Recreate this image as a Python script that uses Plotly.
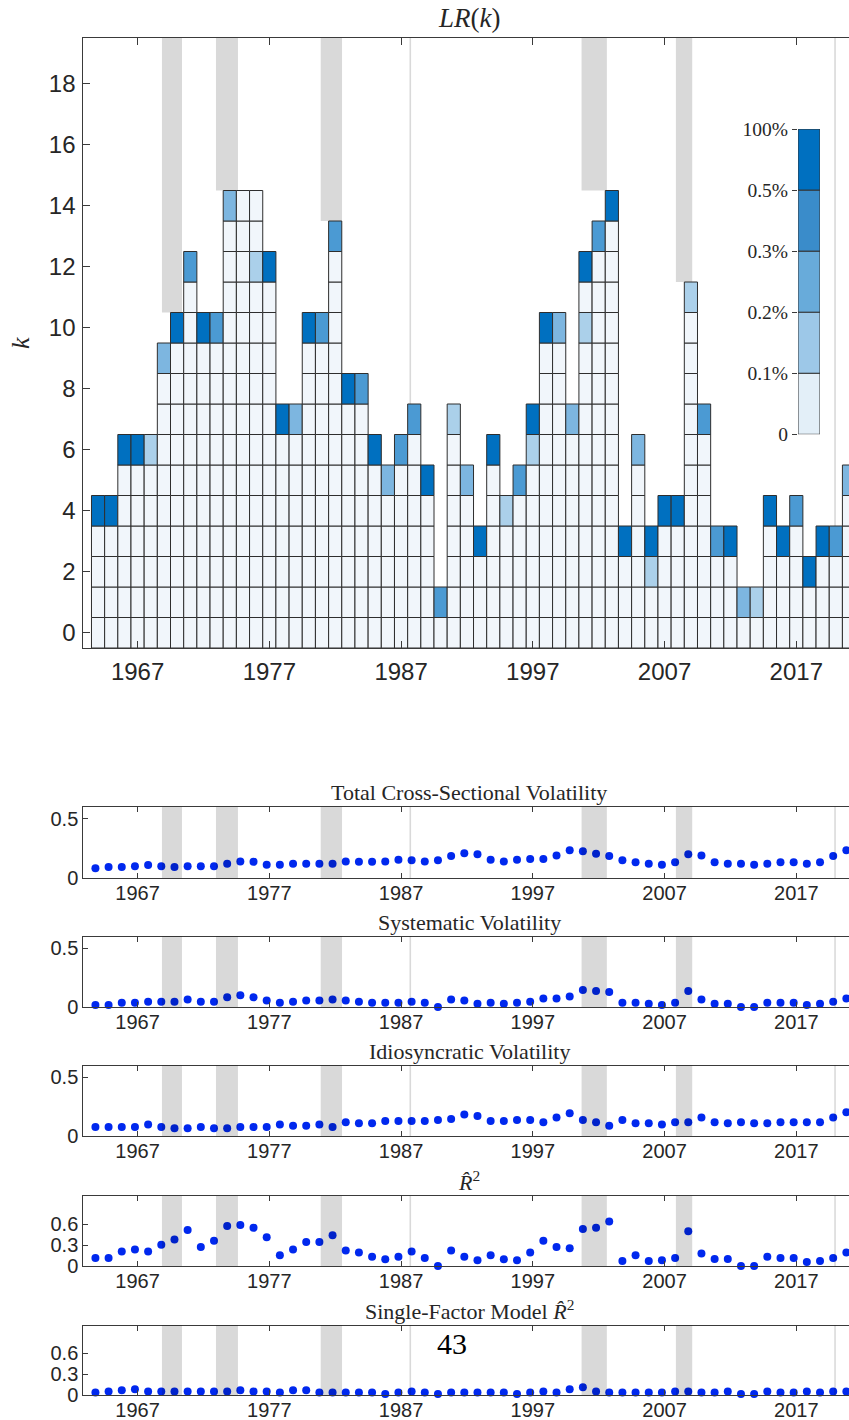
import plotly.graph_objects as go

W, H = 849, 1420

# ---------------- data ----------------
years = list(range(1964, 2022))
# highest k tested per year (cells k = 0..kmax)
kmax = [4, 4, 6, 6, 6, 9, 10, 12, 10, 10,
        14, 14, 14, 12, 7, 7, 10, 10, 13, 8,
        8, 6, 5, 6, 7, 5, 1, 7, 5, 3,
        6, 4, 5, 7, 10, 10, 7, 12, 13, 14,
        3, 6, 3, 4, 4, 11, 7, 3, 3, 1,
        1, 4, 3, 4, 2, 3, 3, 5]
# cells with a p-value level above the lowest bin
cell_year = [1964, 1965, 1966, 1967, 1968, 1969, 1970, 1971, 1972, 1973, 1974,
             1976, 1977, 1978, 1979, 1980, 1981, 1982, 1983, 1984, 1985, 1986,
             1987, 1988, 1989, 1990, 1991, 1992, 1993, 1994, 1995, 1996,
             1997, 1997, 1998, 1999, 2000, 2001, 2001, 2002, 2003, 2004, 2005,
             2006, 2006, 2007, 2008, 2009, 2010, 2011, 2012, 2013, 2014, 2015,
             2016, 2017, 2018, 2019, 2020, 2021]
cell_k = [4, 4, 6, 6, 6, 9, 10, 12, 10, 10, 14,
          12, 12, 7, 7, 10, 10, 13, 8, 8, 6, 5, 6, 7, 5, 1, 7, 5, 3, 6, 4, 5,
          7, 6, 10, 10, 7, 12, 10, 13, 14, 3, 6,
          3, 2, 4, 4, 11, 7, 3, 3, 1, 1, 4, 3, 4, 2, 3, 3, 5]
cell_level = [4, 4, 4, 4, 1, 2, 4, 3, 4, 3, 2,
              1, 4, 4, 2, 4, 3, 3, 4, 3, 4, 2, 3, 3, 4, 3, 1, 2, 4, 4, 1, 3,
              4, 1, 4, 2, 2, 4, 1, 3, 4, 4, 2,
              4, 1, 4, 4, 1, 3, 3, 4, 2, 1, 4, 4, 3, 4, 4, 3, 2]

level_labels = ["0", "0.1%", "0.2%", "0.3%", "0.5%", "100%"]

# recession bands (start, end) and how far down they reach in the LR(k) panel
band_start = [1968.85, 1972.95, 1980.90, 1987.64, 2000.70, 2007.86, 2019.88]
band_end = [1970.37, 1974.62, 1982.52, 1987.76, 2002.62, 2009.10, 2020.00]
band_floor = [10.5, 14.5, 13.5, 7.5, 14.5, 11.5, 3.5]

total_vol = [0.083, 0.092, 0.092, 0.10, 0.11, 0.10, 0.092, 0.10, 0.10, 0.10,
             0.12, 0.14, 0.137, 0.113, 0.113, 0.12, 0.12, 0.12, 0.12, 0.14,
             0.137, 0.137, 0.14, 0.155, 0.15, 0.14, 0.15, 0.185, 0.21, 0.20,
             0.155, 0.14, 0.155, 0.16, 0.16, 0.19, 0.235, 0.225, 0.205, 0.185,
             0.15, 0.134, 0.12, 0.113, 0.134, 0.20, 0.19, 0.134, 0.12, 0.12,
             0.113, 0.12, 0.134, 0.134, 0.12, 0.134, 0.185, 0.235]
sys_vol = [0.018, 0.018, 0.036, 0.036, 0.045, 0.045, 0.045, 0.064, 0.045, 0.045,
           0.082, 0.10, 0.082, 0.055, 0.036, 0.045, 0.055, 0.055, 0.064, 0.055,
           0.045, 0.036, 0.036, 0.036, 0.045, 0.036, 0.0, 0.064, 0.055, 0.027,
           0.036, 0.027, 0.036, 0.045, 0.073, 0.073, 0.09, 0.145, 0.136, 0.127,
           0.036, 0.036, 0.027, 0.018, 0.036, 0.136, 0.064, 0.027, 0.027, 0.0,
           0.0, 0.036, 0.036, 0.036, 0.018, 0.027, 0.045, 0.073]
idio_vol = [0.076, 0.076, 0.076, 0.076, 0.097, 0.076, 0.067, 0.067, 0.076, 0.067,
            0.067, 0.076, 0.076, 0.076, 0.097, 0.088, 0.088, 0.097, 0.076, 0.118,
            0.109, 0.109, 0.127, 0.127, 0.127, 0.127, 0.136, 0.145, 0.182, 0.17,
            0.127, 0.127, 0.136, 0.136, 0.118, 0.157, 0.194, 0.136, 0.118, 0.088,
            0.136, 0.109, 0.109, 0.097, 0.118, 0.118, 0.157, 0.118, 0.109, 0.118,
            0.109, 0.109, 0.118, 0.118, 0.118, 0.118, 0.157, 0.203]
r2 = [0.116, 0.116, 0.207, 0.237, 0.207, 0.303, 0.379, 0.515, 0.273, 0.359,
      0.571, 0.586, 0.545, 0.409, 0.152, 0.237, 0.343, 0.343, 0.44, 0.222,
      0.192, 0.131, 0.096, 0.131, 0.207, 0.116, 0.0, 0.222, 0.131, 0.081,
      0.152, 0.096, 0.081, 0.192, 0.359, 0.273, 0.253, 0.53, 0.545, 0.636,
      0.071, 0.152, 0.071, 0.081, 0.116, 0.495, 0.177, 0.101, 0.101, 0.0,
      0.0, 0.131, 0.116, 0.116, 0.056, 0.071, 0.116, 0.192]
r2_single = [0.036, 0.05, 0.067, 0.082, 0.05, 0.05, 0.05, 0.05, 0.05, 0.05,
             0.05, 0.067, 0.05, 0.05, 0.036, 0.067, 0.067, 0.036, 0.036, 0.036,
             0.036, 0.036, 0.015, 0.036, 0.05, 0.036, 0.015, 0.036, 0.036, 0.036,
             0.036, 0.036, 0.015, 0.036, 0.05, 0.036, 0.082, 0.113, 0.05, 0.036,
             0.036, 0.036, 0.036, 0.036, 0.05, 0.05, 0.036, 0.036, 0.05, 0.015,
             0.015, 0.05, 0.036, 0.036, 0.05, 0.036, 0.05, 0.05]

panel_titles = ["Total Cross-Sectional Volatility", "Systematic Volatility",
                "Idiosyncratic Volatility", "<i>R\u0302</i><sup>2</sup>",
                "Single-Factor Model <i>R\u0302</i><sup>2</sup>"]
panel_series = [total_vol, sys_vol, idio_vol, r2, r2_single]
panel_ymax = [0.6, 0.6, 0.6, 1.0, 1.0]
panel_ticks = [[0, 0.5], [0, 0.5], [0, 0.5], [0, 0.3, 0.6], [0, 0.3, 0.6]]
xticks = [1967, 1977, 1987, 1997, 2007, 2017]

# ---------------- style ----------------
XMIN, XMAX = 1962.88, 2021.0
DOT_SHIFT = -0.2
cell_colors = ["#f1f6fb", "#abd0ea", "#7db6e0", "#4b9ad3", "#0070c0"]
bar_colors = ["#e3eff8", "#9dc8e8", "#68abda", "#3a8cca", "#0070c0"]
AX = "#3a3a3a"
TXT = "#262626"
SANS = "Liberation Sans, Arial, sans-serif"
SERIF = "Liberation Serif, Times New Roman, serif"


def py(v):
    return 1 - v / H


def px(v):
    return v / W


fig = go.Figure()

# ---- LR(k) grid ----
level_of = {(y, k): l for y, k, l in zip(cell_year, cell_k, cell_level)}
bx, bw, bbase, bcol = [], [], [], []
for y, km in zip(years, kmax):
    left = max(y - 0.5, XMIN)
    right = y + 0.5
    for k in range(km + 1):
        bx.append((left + right) / 2)
        bw.append(right - left)
        bbase.append(k - 0.5)
        bcol.append(cell_colors[level_of.get((y, k), 0)])
fig.add_trace(go.Bar(x=bx, y=[1] * len(bx), base=bbase, width=bw,
                     marker=dict(color=bcol, line=dict(color="#2e2e2e", width=1)),
                     xaxis="x", yaxis="y", showlegend=False, hoverinfo="skip"))

# ---- colour scale legend ----
fig.add_trace(go.Bar(x=[0] * 5, y=[1] * 5, base=list(range(5)), width=[1] * 5,
                     marker=dict(color=bar_colors, line=dict(color="#333333", width=1)),
                     xaxis="x7", yaxis="y7", showlegend=False, hoverinfo="skip"))

# ---- small panels ----
for i, ser in enumerate(panel_series):
    n = i + 2
    fig.add_trace(go.Scatter(x=[y + DOT_SHIFT for y in years], y=ser, mode="markers",
                             marker=dict(color="#0028ee", size=8, line=dict(width=0)),
                             cliponaxis=False, xaxis=f"x{n}", yaxis=f"y{n}",
                             showlegend=False, hoverinfo="skip"))

shapes = []
for s, e, f in zip(band_start, band_end, band_floor):
    shapes.append(dict(type="rect", xref="x", yref="y", x0=s, x1=e, y0=f, y1=19.5,
                       fillcolor="#d9d9d9", line=dict(width=0), layer="below"))
    for n in range(2, 7):
        shapes.append(dict(type="rect", xref=f"x{n}", yref=f"y{n} domain", x0=s, x1=e,
                           y0=0, y1=1, fillcolor="rgba(0,0,0,0.15)",
                           line=dict(width=0), layer="above"))

xdom = [px(83.3), 1.0]
layout = dict(
    template="none",
    width=W, height=H, margin=dict(l=0, r=0, t=0, b=0, pad=0, autoexpand=False),
    paper_bgcolor="white", plot_bgcolor="white", barmode="overlay",
    shapes=shapes, showlegend=False,
    font=dict(family=SANS, color=TXT),
)

axis_common = dict(showgrid=False, zeroline=False, showline=True, linecolor=AX,
                   linewidth=1, ticks="inside", tickcolor=AX, tickwidth=1,
                   automargin=False)

layout["xaxis"] = dict(axis_common, domain=xdom, range=[XMIN, XMAX], tickvals=xticks,
                       mirror="ticks", ticklen=7, anchor="y", ticklabelstandoff=2,
                       tickfont=dict(size=24, family=SANS, color=TXT))
layout["yaxis"] = dict(axis_common, domain=[py(648), py(38)], range=[-0.5, 19.5],
                       tickvals=list(range(0, 19, 2)), ticklen=7, anchor="x",
                       ticklabelstandoff=2,
                       tickfont=dict(size=24, family=SANS, color=TXT))

panel_px = [(807, 878), (936.5, 1007), (1065.5, 1136), (1196, 1266), (1325.5, 1395)]
for i in range(5):
    n = i + 2
    top, bot = panel_px[i]
    layout[f"xaxis{n}"] = dict(axis_common, domain=xdom, range=[XMIN, XMAX],
                               tickvals=xticks, mirror="ticks", ticklen=5,
                               anchor=f"y{n}", ticklabelstandoff=-3,
                               tickfont=dict(size=20, family=SANS, color=TXT))
    layout[f"yaxis{n}"] = dict(axis_common, domain=[py(bot), py(top)],
                               range=[0, panel_ymax[i]], tickvals=panel_ticks[i],
                               ticktext=[("%g" % v) for v in panel_ticks[i]],
                               ticklen=5, anchor=f"x{n}",
                               tickfont=dict(size=20, family=SANS, color=TXT))

layout["xaxis7"] = dict(domain=[px(798), px(820)], range=[-0.5, 0.5], visible=False,
                        anchor="y7", automargin=False)
layout["yaxis7"] = dict(domain=[py(434.3), py(129)], range=[0, 5], anchor="x7",
                        tickvals=list(range(6)), ticktext=level_labels,
                        ticks="outside", ticklen=5, tickcolor=AX, showline=False,
                        showgrid=False, zeroline=False, automargin=False,
                        tickfont=dict(size=19.5, family=SERIF, color=TXT))


def note(text, x, y, size, angle=0, color=TXT):
    return dict(text=text, x=px(x), y=py(y), xref="paper", yref="paper",
                xanchor="center", yanchor="middle", showarrow=False,
                textangle=angle, font=dict(size=size, family=SERIF, color=color))


annotations = [
    note("<i>LR</i>(<i>k</i>)", 469, 18, 27),
    note("<i>k</i>", 20, 343, 26, angle=-90),
    note("43", 452, 1343, 30, color="black"),
]
title_y = [792, 922, 1051, 1181, 1310]
for t, ty in zip(panel_titles, title_y):
    annotations.append(note(t, 469, ty, 22))
layout["annotations"] = annotations

fig.update_layout(**layout)
fig.write_html("out.html", config={"displayModeBar": False},
               post_script="document.body.style.margin='0';"
                           "document.body.style.padding='0';")
